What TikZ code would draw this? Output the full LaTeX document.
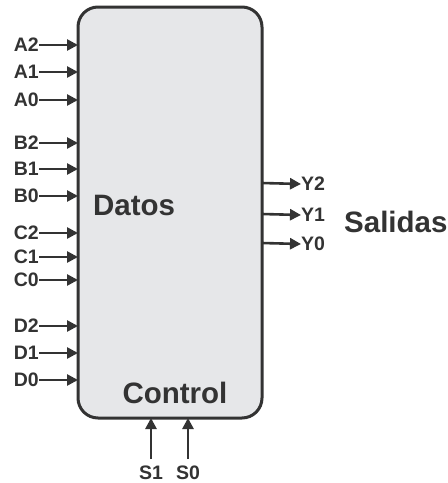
\documentclass[tikz,border=0pt]{standalone}
\usepackage{fontspec}
\setmainfont{Liberation Sans}
\usetikzlibrary{arrows.meta}
\definecolor{ink}{HTML}{333333}
\definecolor{boxfill}{HTML}{E6E7E9}
\begin{document}
\begin{tikzpicture}[x=1pt,y=-1pt,
  blk/.style={draw=ink,fill=boxfill,line width=3pt,rounded corners=20pt},
  sig/.style={draw=ink,line width=2.6pt,-{Triangle[length=11pt,width=11pt]}},
  lab/.style={text=ink,font=\bfseries\fontsize{19.5}{19.5}\selectfont,inner sep=0pt},
  big/.style={text=ink,font=\bfseries\fontsize{29.5}{29.5}\selectfont,inner sep=0pt}]
\useasboundingbox (0,0) rectangle (448,483);
\draw[blk] (78,7) rectangle (262,418);
\node[big,anchor=west] (datos) at (93,205) {Datos};
\node[big] (control) at (175,393) {Control};
\node[big,anchor=west] (salidas) at (344,222) {Salidas};
\foreach \n/\y in {A2/45,A1/72,A0/100,B2/143,B1/169,B0/196,C2/233,C1/257,C0/280,D2/326,D1/353,D0/380}{
  \node[lab,anchor=east] (\n) at (39,\y) {\n};
  \coordinate (\n e) at (78,\y);
  \draw[sig] (\n) -- (\n e);
}
\foreach \n/\y in {Y2/183,Y1/214,Y0/243}{
  \coordinate (\n s) at (262,\y);
  \node[lab,anchor=west] (\n) at (301,\y+1) {\n};
  \draw[sig] (\n s) -- (\n.west);
}
\foreach \n/\x in {S1/151,S0/188}{
  \node[lab] (\n) at (\x,473) {\n};
  \coordinate (\n t) at (\x,418);
  \draw[sig] (\x,459) -- (\n t);
}
\end{tikzpicture}
\end{document}
